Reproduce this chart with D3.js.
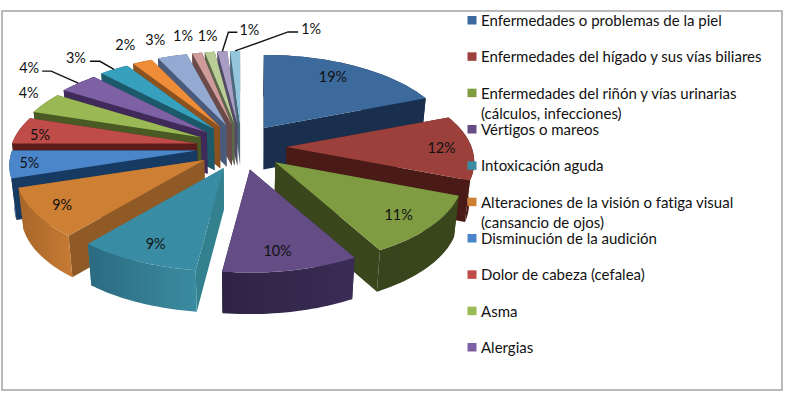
<!DOCTYPE html>
<html lang="es">
<head>
<meta charset="utf-8">
<style>
  html, body { margin: 0; padding: 0; background: #fff; }
  svg { display: block; }
  text { font-family: Lato, "Open Sans", sans-serif; fill: #111; font-variant-ligatures: none; }
</style>
<script src="https://cdn.jsdelivr.net/npm/d3@7/dist/d3.min.js"></script>
</head>
<body>
<svg id="chart" width="787" height="408"></svg>
<script>
// Enfermedades declaradas, porcentaje sobre el total
const percentages = [19, 12, 11, 10, 9, 9, 5, 5, 4, 4, 3, 2, 3, 1, 1, 1, 1];

// Only the first ten categories fit in the legend box
const legendEntries = [
  ["Enfermedades o problemas de la piel"],
  ["Enfermedades del hígado y sus vías biliares"],
  ["Enfermedades del riñón y vías urinarias", "(cálculos, infecciones)"],
  ["Vértigos o mareos"],
  ["Intoxicación aguda"],
  ["Alteraciones de la visión o fatiga visual", "(cansancio de ojos)"],
  ["Disminución de la audición"],
  ["Dolor de cabeza (cefalea)"],
  ["Asma"],
  ["Alergias"]
];

const topColors = ["#3c6a9d", "#9c403c", "#7f9c42", "#644d85", "#3a8ca4", "#cd7f34", "#4a86c9", "#bf4c49",
                   "#9ab955", "#7e60a4", "#37a0bc", "#ef8c38", "#95aad3", "#cf9c9b", "#b9cd97", "#a99dc4", "#93c6dc"];
const sideColors = ["#1a2f4e", "#4a1a16", "#3a461c", "#33274b", "#33808f", "#8f5a26", "#173a63", "#5c1c1c",
                    "#4a5a24", "#3f2a5a", "#1c5a6a", "#8b5220", "#4a5a7a", "#6b4a4a", "#5c6648", "#514a66", "#4a6a7c"];
const wallLeftColors = ["#1a2f4e", "#4a1a16", "#3a461c", "#3a2c55", "#3b8ca1", "#c67b33", "#173a63", "#5c1c1c",
                        "#4a5a24", "#3f2a5a", "#1c5a6a", "#8b5220", "#4a5a7a", "#6b4a4a", "#5c6648", "#514a66", "#4a6a7c"];
const wallRightColors = ["#1a2f4e", "#4a1a16", "#38441b", "#2e2344", "#2b6a80", "#a8662a", "#173a63", "#5c1c1c",
                         "#4a5a24", "#3f2a5a", "#1c5a6a", "#8b5220", "#4a5a7a", "#6b4a4a", "#5c6648", "#514a66", "#4a6a7c"];

// Label offset from the middle of each slice's rim, in pixels
const labelNudges = [[-22, 11], [-30, 0], [-33, -11], [-14, -20], [19, -18], [27, -9], [20, -2], [21, 4],
                     [-16, -11], [-49, -16], [-38, -12], [-17, -17], [-17, -17], [-14, -17], [-2, -16], [27, -22], [76, -22]];
// Elbow leader lines: slice index and distance of the elbow and of the text end from the rim
const leaders = [
  { slice: 9, elbow: [-27, -12], end: [-36, -12] },
  { slice: 10, elbow: [-14, -8], end: [-24, -8] },
  { slice: 15, elbow: [6, -19], end: [15, -19] },
  { slice: 16, elbow: [53, -19], end: [63, -19] }
];

// Pie geometry
const centerX = 241.5, centerY = 147;
const explodeX = 45, explodeY = 23;
const firstSliceShift = -3;
const radiusX = 185, radiusY = 85.5;
const perspective = 0.17;
const depth = 41.5, bottomShrink = 0.978;
const rad = Math.PI / 180;

const svg = d3.select("#chart");
const defs = svg.append("defs");

// Chart frame
svg.append("rect").attr("x", 2).attr("y", 11).attr("width", 780).attr("height", 379)
  .attr("fill", "#fff").attr("stroke", "#a9a9a9").attr("stroke-width", 1.6);

const pie = d3.pie().sort(null);
const slices = pie(percentages).map((d, i) => {
  const mid = (d.startAngle + d.endAngle) / 2;
  const shift = i === 0 ? firstSliceShift : 0;
  return { ...d, i, mid, apex: [centerX + shift + explodeX * Math.sin(mid), centerY - explodeY * Math.cos(mid)] };
});

// Perspective projection of a point on the tilted disc, relative to the slice apex
function onDisc(slice, angle) {
  const u = Math.sin(angle), v = -Math.cos(angle);
  const s = 1 / (1 - perspective * v);
  return [slice.apex[0] + radiusX * s * u, slice.apex[1] + radiusY * s * v];
}
const lowered = p => [centerX + (p[0] - centerX) * bottomShrink, p[1] + depth];
const rimPoints = (slice) => d3.range(0, 1.0001, 1 / 24).map(t =>
  onDisc(slice, slice.startAngle + (slice.endAngle - slice.startAngle) * t));

const path = d3.line();
const closed = pts => path(pts) + "Z";

// Painter's order: slices farthest from the viewer go first
const paintOrder = slices.slice().sort((a, b) => {
  const away = s => Math.abs(s.mid / rad - 180);
  return away(b) - away(a);
});

const pieLayer = svg.append("g");
paintOrder.forEach(slice => {
  const g = pieLayer.append("g");
  const rim = rimPoints(slice);
  const first = rim[0], last = rim[rim.length - 1];

  [first, last].forEach(edge => {
    g.append("path")
      .attr("d", closed([slice.apex, edge, lowered(edge), lowered(slice.apex)]))
      .attr("fill", sideColors[slice.i]);
  });

  const gradId = "wall" + slice.i;
  const grad = defs.append("linearGradient").attr("id", gradId);
  const leftToRight = first[0] < last[0];
  grad.append("stop").attr("offset", 0).attr("stop-color", leftToRight ? wallLeftColors[slice.i] : wallRightColors[slice.i]);
  grad.append("stop").attr("offset", 1).attr("stop-color", leftToRight ? wallRightColors[slice.i] : wallLeftColors[slice.i]);
  g.append("path")
    .attr("d", closed(rim.concat(rim.map(lowered).reverse())))
    .attr("fill", `url(#${gradId})`);

  g.append("path")
    .attr("d", closed([slice.apex].concat(rim)))
    .attr("fill", topColors[slice.i]);
});

// Leader lines
const rimMid = slice => onDisc(slice, slice.mid);
svg.append("g").selectAll("path").data(leaders).join("path")
  .attr("d", d => {
    const m = rimMid(slices[d.slice]);
    return path([m, [m[0] + d.elbow[0], m[1] + d.elbow[1]], [m[0] + d.end[0], m[1] + d.end[1]]]);
  })
  .attr("fill", "none").attr("stroke", "#111").attr("stroke-width", 1.4);

// Percentage labels
svg.append("g").selectAll("text").data(slices).join("text")
  .attr("x", d => rimMid(d)[0] + labelNudges[d.i][0])
  .attr("y", d => rimMid(d)[1] + labelNudges[d.i][1])
  .attr("text-anchor", "middle").attr("dominant-baseline", "central")
  .attr("font-size", 14.4)
  .text(d => d.data + "%");

// Legend
const legendY = d3.scaleLinear().domain([0, legendEntries.length - 1]).range([20, 347]);
const legend = svg.append("g").selectAll("g").data(legendEntries).join("g")
  .attr("transform", (d, i) => `translate(0,${legendY(i)})`);
legend.append("rect")
  .attr("x", 467.5).attr("y", -4).attr("width", 9).attr("height", 8.5)
  .attr("fill", (d, i) => topColors[i]);
legend.selectAll("text").data(d => d).join("text")
  .attr("x", 481).attr("y", (d, j) => j * 20)
  .attr("dominant-baseline", "central")
  .attr("font-size", 15)
  .text(d => d);
</script>
</body>
</html>
